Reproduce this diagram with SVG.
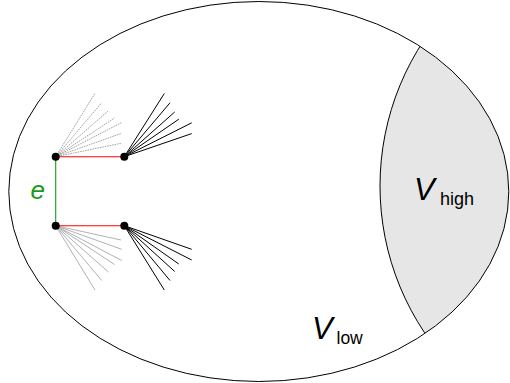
<svg xmlns="http://www.w3.org/2000/svg" width="510" height="383" viewBox="0 0 510 383">
<style>
.fanb{stroke:#000;stroke-width:1;fill:none}
.fand{stroke:#8c8c8c;stroke-width:0.8;stroke-dasharray:1.6 0.9;fill:none}
.fang{stroke:#a8a8a8;stroke-width:0.9;fill:none}
.red{stroke:#ff0000;stroke-width:1.1;fill:none}
.node{fill:#000}
.lbl{font-family:"Liberation Sans",Arial,sans-serif;fill:#000}
</style>
<defs>
<clipPath id="ec"><ellipse cx="258.8" cy="191.5" rx="250" ry="190"/></clipPath>
</defs>
<g id="region-high">
<circle cx="643.8" cy="186" r="263.8" fill="#e6e6e6" stroke="#000" stroke-width="1" clip-path="url(#ec)"/>
</g>
<g id="outer">
<ellipse cx="258.8" cy="191.5" rx="250" ry="190" fill="none" stroke="#000" stroke-width="1"/>
</g>
<g id="connectors">
<g class="fand">
<line x1="55.7" y1="156.7" x2="95" y2="93.3"/>
<line x1="55.7" y1="156.7" x2="101.7" y2="102.8"/>
<line x1="55.7" y1="156.7" x2="108.5" y2="110.7"/>
<line x1="55.7" y1="156.7" x2="114.5" y2="118"/>
<line x1="55.7" y1="156.7" x2="121.7" y2="122.5"/>
<line x1="55.7" y1="156.7" x2="121.7" y2="133.3"/>
<line x1="55.7" y1="156.7" x2="121" y2="143.3"/>
</g>
<g class="fanb">
<line x1="124.3" y1="156.7" x2="164.3" y2="93.5"/>
<line x1="124.3" y1="156.7" x2="170" y2="102.8"/>
<line x1="124.3" y1="156.7" x2="174.7" y2="112"/>
<line x1="124.3" y1="156.7" x2="178.8" y2="119.2"/>
<line x1="124.3" y1="156.7" x2="191.7" y2="122.8"/>
<line x1="124.3" y1="156.7" x2="191.7" y2="133.6"/>
</g>
<g class="fang">
<line x1="55.7" y1="225.7" x2="121" y2="240"/>
<line x1="55.7" y1="225.7" x2="121.7" y2="249.3"/>
<line x1="55.7" y1="225.7" x2="121.7" y2="260.5"/>
<line x1="55.7" y1="225.7" x2="114.5" y2="264.5"/>
<line x1="55.7" y1="225.7" x2="108.5" y2="272"/>
<line x1="55.7" y1="225.7" x2="101.7" y2="280.5"/>
<line x1="55.7" y1="225.7" x2="95" y2="290"/>
</g>
<g class="fanb">
<line x1="124.3" y1="225.7" x2="191.7" y2="249.3"/>
<line x1="124.3" y1="225.7" x2="191.7" y2="260"/>
<line x1="124.3" y1="225.7" x2="178.8" y2="264"/>
<line x1="124.3" y1="225.7" x2="174.7" y2="271.5"/>
<line x1="124.3" y1="225.7" x2="170" y2="280.5"/>
<line x1="124.3" y1="225.7" x2="164.3" y2="290"/>
</g>
<line class="red" x1="55.7" y1="156.7" x2="124.3" y2="156.7"/>
<line class="red" x1="55.7" y1="225.7" x2="124.3" y2="225.7"/>
<line x1="55.7" y1="156.7" x2="55.7" y2="225.7" stroke="#1a9a1a" stroke-width="1.1"/>
</g>
<g id="node-tl"><circle class="node" cx="55.7" cy="156.7" r="4"/></g>
<g id="node-tr"><circle class="node" cx="124.3" cy="156.7" r="4"/></g>
<g id="node-bl"><circle class="node" cx="55.7" cy="225.7" r="4"/></g>
<g id="node-br"><circle class="node" cx="124.3" cy="225.7" r="4"/></g>
<g id="label-e"><text x="30.5" y="199" font-family="Liberation Sans,Arial,sans-serif" font-style="italic" font-size="26" fill="#1a9a1a">e</text></g>
<g id="label-high"><text class="lbl" x="414" y="200" font-size="31"><tspan font-style="italic">V</tspan><tspan x="440" y="205" font-size="18">high</tspan></text></g>
<g id="label-low"><text class="lbl" x="312" y="338.5" font-size="31"><tspan font-style="italic">V</tspan><tspan x="336.5" y="343.5" font-size="17.5">low</tspan></text></g>
</svg>
